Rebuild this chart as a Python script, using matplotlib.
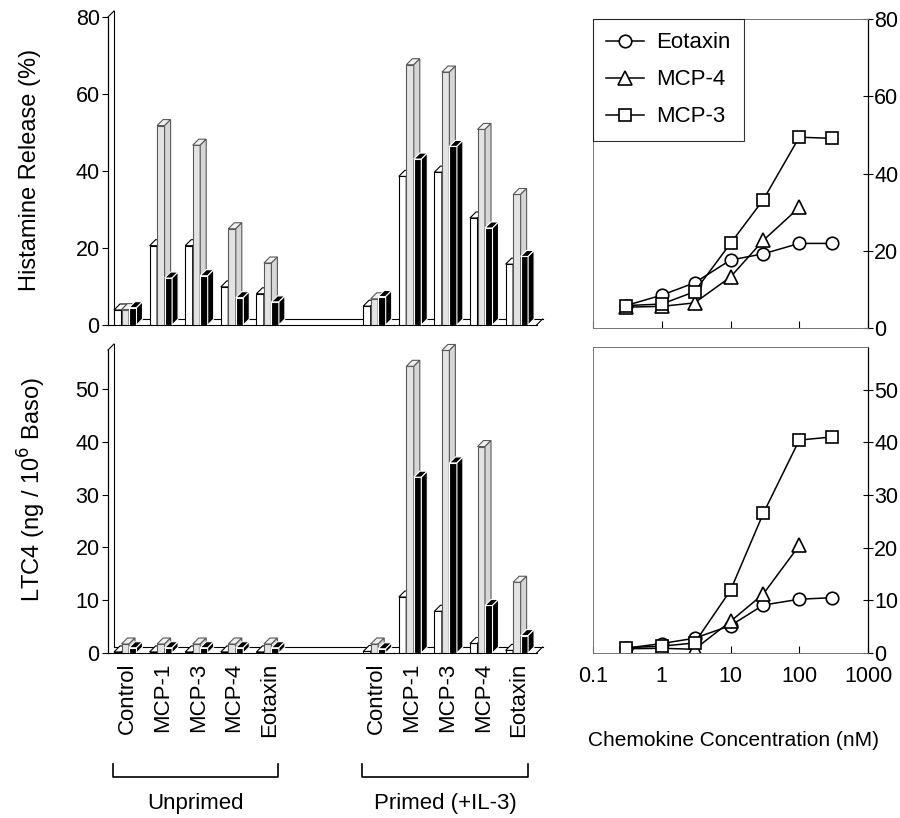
import numpy as np
import matplotlib.pyplot as plt
from matplotlib.patches import Polygon
from matplotlib.ticker import FixedLocator, NullLocator

plt.rcParams['font.family'] = ['Liberation Sans', 'DejaVu Sans']
plt.rcParams['font.size'] = 15.5

# bar data: three bars per stimulus (open, dotted, solid)
groups = ['Control', 'MCP-1', 'MCP-3', 'MCP-4', 'Eotaxin']

hist_unprimed_open = [3.9, 20.6, 20.6, 9.9, 8.1]
hist_unprimed_dot = [4.0, 51.8, 46.7, 25.0, 16.1]
hist_unprimed_solid = [4.5, 12.2, 12.8, 7.1, 6.0]
hist_primed_open = [4.9, 38.6, 39.7, 27.8, 15.8]
hist_primed_dot = [6.8, 67.6, 65.7, 50.8, 33.9]
hist_primed_solid = [7.4, 43.1, 46.4, 25.2, 17.8]

ltc_unprimed_open = [0.2, 0.2, 0.2, 0.2, 0.2]
ltc_unprimed_dot = [1.7, 1.7, 1.7, 1.7, 1.7]
ltc_unprimed_solid = [1.0, 1.0, 1.0, 1.0, 1.0]
ltc_primed_open = [0.3, 10.6, 7.9, 1.8, 0.5]
ltc_primed_dot = [1.7, 54.3, 57.3, 39.1, 13.4]
ltc_primed_solid = [0.8, 33.3, 36.0, 9.0, 3.3]

# dose response data
conc = [0.3, 1, 3, 10, 30, 100, 300]
hist_eotaxin = [5.8, 8.5, 11.7, 17.6, 19.2, 21.9, 21.9]
hist_mcp4 = [5.4, 5.6, 6.5, 13.2, 22.7, 31.2]
hist_mcp3 = [5.8, 6.2, 9.4, 21.9, 33.2, 49.4, 49.1]
ltc_eotaxin = [0.9, 1.8, 2.8, 5.2, 9.1, 10.2, 10.5]
ltc_mcp4 = [0.8, 0.9, 0.7, 6.0, 11.2, 20.4]
ltc_mcp3 = [1.0, 1.3, 1.9, 11.9, 26.5, 40.4, 41.0]

W, H = 900, 818
fig = plt.figure(figsize=(W / 100, H / 100), dpi=100)


def px_axes(left, top, right, bottom):
    return fig.add_axes([left / W, 1 - bottom / H, (right - left) / W, (bottom - top) / H])


SLOT_PX = 35.6   # distance between stimulus groups
BAR_PX = 7.5     # width of a bar front
DEPTH_PX = 6.0   # 3d offset of the bars
positions = np.array([0, 1, 2, 3, 4, 7, 8, 9, 10, 11], dtype=float)

OPEN = ('white', 'white', 'white', 'black')
DOT = ('#e3e3e3', '#f0f0f0', '#d6d6d6', '0.35')
SOLID = ('black', 'black', 'black', 'white')


def bar_panel(ax, left_px, right_px, series, ymax, yticks):
    x0 = -DEPTH_PX / SLOT_PX
    x1 = (right_px - left_px - DEPTH_PX) / SLOT_PX
    ax.set_xlim(x0, x1)
    ax.set_ylim(0, ymax)
    bb = ax.get_position()
    px_x = bb.width * W / (x1 - x0)
    px_y = bb.height * H / ymax
    w = BAR_PX / px_x
    dx = DEPTH_PX / px_x
    dy = DEPTH_PX / px_y

    for k, (vals, (front, top, side, edge)) in enumerate(series):
        xs = positions + k * w
        ax.bar(xs, vals, width=w, align='edge', facecolor=front,
               edgecolor=edge, linewidth=0.8, zorder=3 + k)
        for x, h in zip(xs, vals):
            ax.add_patch(Polygon([(x, h), (x + dx, h + dy), (x + w + dx, h + dy), (x + w, h)],
                                 closed=True, facecolor=top, edgecolor=edge,
                                 linewidth=0.8, zorder=3 + k, clip_on=False))
            ax.add_patch(Polygon([(x + w, 0), (x + w + dx, dy), (x + w + dx, h + dy), (x + w, h)],
                                 closed=True, facecolor=side, edgecolor=edge,
                                 linewidth=0.8, zorder=3 + k, clip_on=False))

    # floor and back wall
    xe = positions[-1] + 0.87
    kw = dict(color='black', linewidth=0.8, clip_on=False, zorder=1)
    ax.plot([x0, xe], [0, 0], **kw)
    ax.plot([0, xe + dx], [dy, dy], **kw)
    ax.plot([xe, xe + dx], [0, dy], **kw)
    ax.plot([0, 0], [dy, ymax + dy], **kw)
    ax.plot([x0, 0], [ymax, ymax + dy], **kw)

    for s in ('top', 'right', 'bottom'):
        ax.spines[s].set_visible(False)
    ax.spines['left'].set_linewidth(0.9)
    ax.set_yticks(yticks)
    ax.tick_params(axis='y', direction='out', length=4, width=0.8, pad=2)
    ax.tick_params(axis='x', length=0)
    ax.patch.set_visible(False)


# top left: histamine release bars
ax_tl = px_axes(108, 17, 545, 325)
bar_panel(ax_tl, 108, 545, [
    (hist_unprimed_open + hist_primed_open, OPEN),
    (hist_unprimed_dot + hist_primed_dot, DOT),
    (hist_unprimed_solid + hist_primed_solid, SOLID),
], 80, [0, 20, 40, 60, 80])
ax_tl.set_xticks([])

# bottom left: LTC4 bars
ax_bl = px_axes(108, 350, 545, 653)
bar_panel(ax_bl, 108, 545, [
    (ltc_unprimed_open + ltc_primed_open, OPEN),
    (ltc_unprimed_dot + ltc_primed_dot, DOT),
    (ltc_unprimed_solid + ltc_primed_solid, SOLID),
], (653 - 350) / 5.28, [0, 10, 20, 30, 40, 50])
ax_bl.set_xticks(positions + 0.37)
ax_bl.set_xticklabels(groups + groups, rotation=90, fontsize=16)
ax_bl.tick_params(axis='x', pad=7)

# group brackets under the bar labels
tr = ax_bl.get_xaxis_transform()
ax_h = 653 - 350
y_line = -(777 - 653) / ax_h
y_end = -(764 - 653) / ax_h
y_txt = -(803 - 653) / ax_h
for start, name in [(0, 'Unprimed'), (7, 'Primed (+IL-3)')]:
    a, b = start - 0.03, start + 4.62
    ax_bl.plot([a, a, b, b], [y_end, y_line, y_line, y_end], color='black',
               linewidth=1.2, transform=tr, clip_on=False)
    ax_bl.text((a + b) / 2, y_txt, name, transform=tr, ha='center', va='center', fontsize=16)


def line_panel(ax, eot, mcp4, mcp3, ymax, yticks):
    ax.plot(conc, eot, '-o', color='black', lw=1.1, ms=9, mfc='white', mew=1.2, label='Eotaxin')
    ax.plot(conc[:len(mcp4)], mcp4, '-^', color='black', lw=1.1, ms=10, mfc='white', mew=1.2, label='MCP-4')
    ax.plot(conc, mcp3, '-s', color='black', lw=1.1, ms=9, mfc='white', mew=1.2, label='MCP-3')
    ax.set_xscale('log')
    ax.set_xlim(0.1, 1000)
    ax.set_ylim(0, ymax)
    ax.yaxis.tick_right()
    ax.set_yticks(yticks)
    ax.tick_params(axis='y', direction='inout', length=7, width=0.8, pad=1)
    ax.xaxis.set_major_locator(FixedLocator([0.1, 1, 10, 100, 1000]))
    ax.xaxis.set_minor_locator(NullLocator())
    ax.tick_params(axis='x', direction='in', length=5, width=0.8)
    for s in ('left', 'top', 'bottom'):
        ax.spines[s].set_color('0.45')
        ax.spines[s].set_linewidth(0.7)
    ax.spines['right'].set_linewidth(0.9)


ax_tr = px_axes(593, 19, 868, 328)
line_panel(ax_tr, hist_eotaxin, hist_mcp4, hist_mcp3, 80, [0, 20, 40, 60, 80])
ax_tr.set_xticklabels([])
leg = ax_tr.legend(loc='upper left', borderaxespad=0, fancybox=False, edgecolor='black',
                   fontsize=16, handlelength=1.7, handletextpad=0.55, labelspacing=0.72,
                   borderpad=0.6)
leg.get_frame().set_linewidth(0.8)

ax_br = px_axes(593, 347, 868, 653)
line_panel(ax_br, ltc_eotaxin, ltc_mcp4, ltc_mcp3, (653 - 347) / 5.27, [0, 10, 20, 30, 40, 50])
ax_br.set_xticklabels(['0.1', '1', '10', '100', '1000'])
ax_br.tick_params(axis='x', pad=9)

fig.text(30 / W, 1 - 170 / H, 'Histamine Release (%)', rotation=90, ha='center', va='center', fontsize=17)
fig.text(32 / W, 1 - 490 / H, 'LTC4 (ng / 10$^{6}$ Baso)', rotation=90, ha='center', va='center', fontsize=17)
fig.text(733 / W, 1 - 741 / H, 'Chemokine Concentration (nM)', ha='center', va='center', fontsize=15)

fig.savefig('out.png', dpi=100)
